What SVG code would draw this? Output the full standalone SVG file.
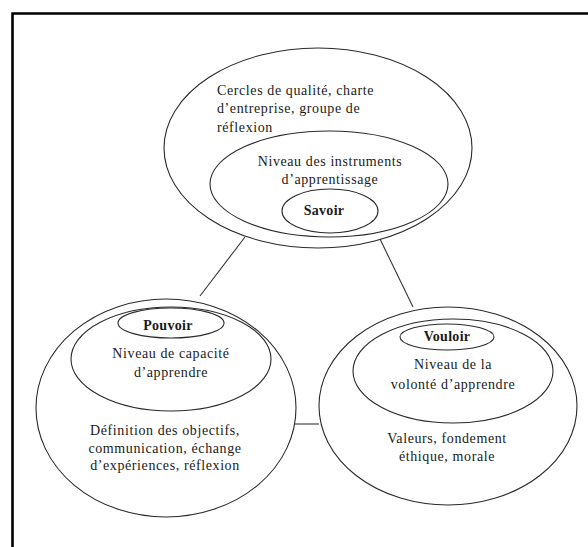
<svg xmlns="http://www.w3.org/2000/svg" width="588" height="547" viewBox="0 0 588 547">
<style>
.e{fill:none;stroke:#2a2a2a;stroke-width:1.1}
.t{font-family:'Liberation Serif','DejaVu Serif','Times New Roman',serif;font-size:14px;fill:#1a1a1a;letter-spacing:0.6px}
.m{text-anchor:middle}
.b{font-weight:bold;letter-spacing:0.3px}
.c{stroke:#333;stroke-width:1.1;fill:none}
</style>
<rect width="588" height="547" fill="#fff"/>
<path d="M12.5 560 V13.5 H600" fill="none" stroke="#000" stroke-width="2.6"/>
<g id="connectors">
<line class="c" x1="245" y1="237" x2="200" y2="296"/>
<line class="c" x1="380" y1="239" x2="413" y2="307"/>
<line class="c" x1="295" y1="424" x2="319" y2="424"/>
</g>
<g id="savoir-outer">
<ellipse class="e" cx="318" cy="148" rx="154" ry="100"/>
<text class="t" font-family="Liberation Serif, serif" x="217" y="95">Cercles de qualité, charte</text>
<text class="t" font-family="Liberation Serif, serif" x="217" y="113">d’entreprise, groupe de</text>
<text class="t" font-family="Liberation Serif, serif" x="217" y="132">réflexion</text>
</g>
<g id="savoir-inner">
<ellipse class="e" cx="329" cy="184" rx="119" ry="53"/>
<text class="t m" font-family="Liberation Serif, serif" x="330" y="166">Niveau des instruments</text>
<text class="t m" font-family="Liberation Serif, serif" x="330" y="184">d’apprentissage</text>
</g>
<g id="savoir">
<ellipse class="e" cx="330" cy="211" rx="48" ry="22"/>
<text class="t m b" font-family="Liberation Serif, serif" x="324" y="215">Savoir</text>
</g>
<g id="pouvoir-outer">
<ellipse class="e" cx="166" cy="408" rx="130" ry="109"/>
<text class="t m" font-family="Liberation Serif, serif" x="165" y="435">Définition des objectifs,</text>
<text class="t m" font-family="Liberation Serif, serif" x="165" y="453">communication, échange</text>
<text class="t m" font-family="Liberation Serif, serif" x="165" y="470">d’expériences, réflexion</text>
</g>
<g id="pouvoir-inner">
<ellipse class="e" cx="171" cy="359" rx="100" ry="52"/>
<text class="t m" font-family="Liberation Serif, serif" x="171" y="358">Niveau de capacité</text>
<text class="t m" font-family="Liberation Serif, serif" x="171" y="377">d’apprendre</text>
</g>
<g id="pouvoir">
<ellipse class="e" cx="171" cy="323" rx="53" ry="15"/>
<text class="t m b" font-family="Liberation Serif, serif" x="168" y="330">Pouvoir</text>
</g>
<g id="vouloir-outer">
<ellipse class="e" cx="448" cy="406" rx="129" ry="99"/>
<text class="t m" font-family="Liberation Serif, serif" x="447" y="443">Valeurs, fondement</text>
<text class="t m" font-family="Liberation Serif, serif" x="447" y="461">éthique, morale</text>
</g>
<g id="vouloir-inner">
<ellipse class="e" cx="453" cy="371" rx="100" ry="52"/>
<text class="t m" font-family="Liberation Serif, serif" x="453" y="369">Niveau de la</text>
<text class="t m" font-family="Liberation Serif, serif" x="453" y="389">volonté d’apprendre</text>
</g>
<g id="vouloir">
<ellipse class="e" cx="447" cy="337" rx="47" ry="13"/>
<text class="t m b" font-family="Liberation Serif, serif" x="447" y="341">Vouloir</text>
</g>
</svg>
